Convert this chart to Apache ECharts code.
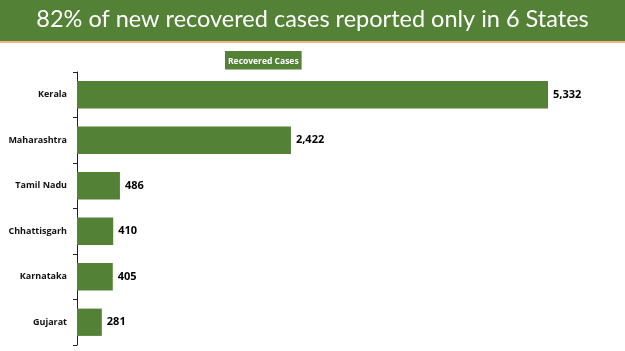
<!DOCTYPE html>
<html>
<head>
<meta charset="utf-8">
<script src="https://cdn.jsdelivr.net/npm/echarts@6/dist/echarts.min.js"></script>
<style>
html,body{margin:0;padding:0;background:#fff;}
#chart{width:625px;height:351px;}
</style>
</head>
<body>
<div id="chart"></div>
<script>
var states = ['Kerala','Maharashtra','Tamil Nadu','Chhattisgarh','Karnataka','Gujarat'];
var recovered = [5332, 2422, 486, 410, 405, 281];
var titleText = '82% of new recovered cases reported only in 6 States';

var green = '#538135';

var chart = echarts.init(document.getElementById('chart'));
var option = {
	animation: false,
	graphic: [
		{type: 'rect', shape: {x: 0, y: 0, width: 625, height: 41}, style: {fill: green}},
		{type: 'rect', shape: {x: 0, y: 41, width: 625, height: 2}, style: {fill: '#f4b183'}},
		{type: 'text', left: 'center', top: 7, style: {
			text: titleText, fill: '#fff', fontSize: 23.5,
			fontFamily: 'Lato'
		}}
	],
	legend: {
		left: 225,
		top: 51,
		icon: 'none',
		itemWidth: 0,
		itemGap: 0,
		padding: [4, 3, 3, 3],
		backgroundColor: green,
		textStyle: {color: '#fff', fontSize: 8.5, fontWeight: 'bold', fontFamily: 'Open Sans', padding: [0, 0, 0, -5]},
		data: ['Recovered Cases']
	},
	grid: {left: 77, top: 72, bottom: 6, width: 530},
	xAxis: {
		type: 'value', min: 0, max: 6000, show: false
	},
	yAxis: {
		type: 'category',
		inverse: true,
		data: states,
		axisLine: {show: true, lineStyle: {color: '#222', width: 1}},
		axisTick: {show: true, length: 4, lineStyle: {color: '#222'}},
		axisLabel: {color: '#111', fontSize: 9, fontWeight: 'bold', fontFamily: 'Open Sans', margin: 10}
	},
	series: [{
		name: 'Recovered Cases',
		type: 'bar',
		data: recovered,
		barCategoryGap: '40%',
		itemStyle: {color: green},
		label: {
			show: true, position: 'right', distance: 5,
			color: '#000', fontSize: 11, fontWeight: 'bold', fontFamily: 'Open Sans',
			formatter: function(p){ return p.value.toLocaleString('en-US'); }
		}
	}]
};
chart.setOption(option);
</script>
</body>
</html>
